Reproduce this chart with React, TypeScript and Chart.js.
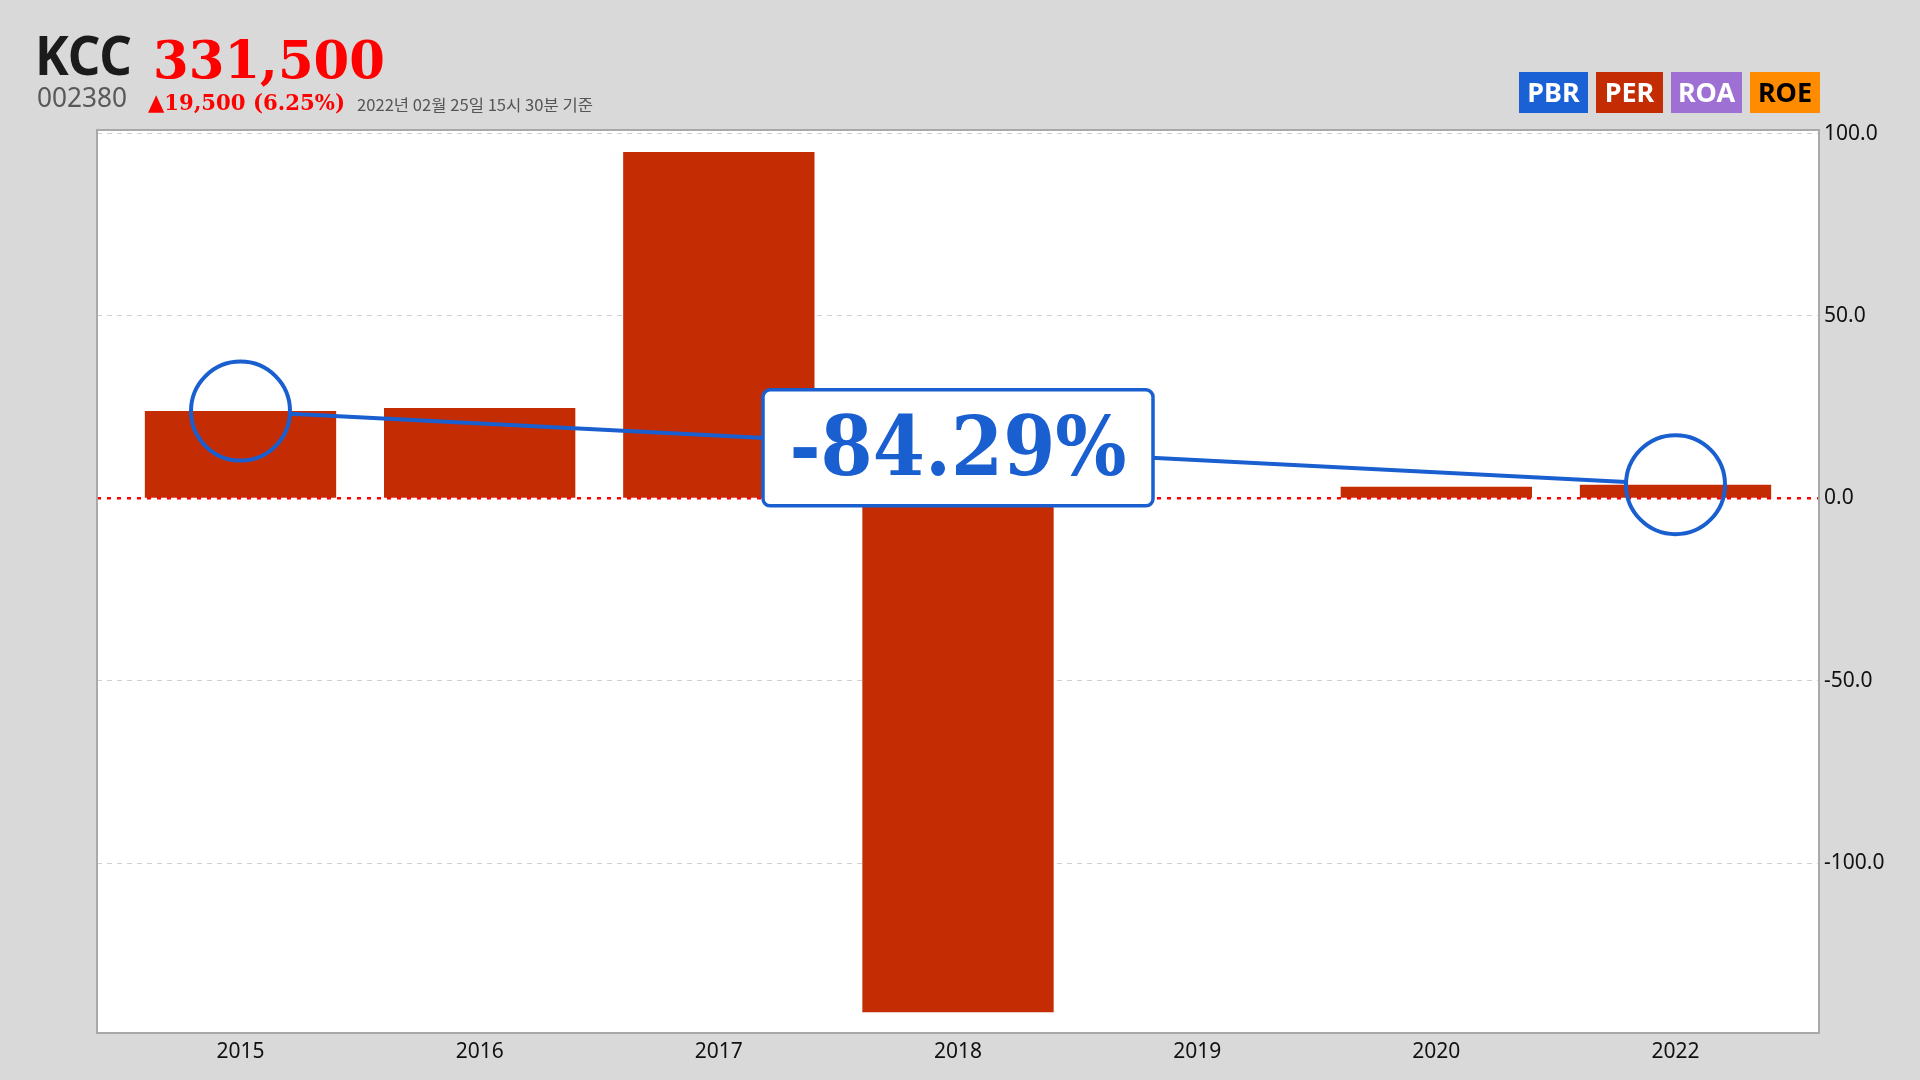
import React, { useEffect, useRef } from "react";
import { Chart, registerables } from "chart.js";

Chart.register(...registerables);

// ---- data ----
const years = ["2015", "2016", "2017", "2018", "2019", "2020", "2022"];
const perValues: (number | null)[] = [23.92, 24.8, 95.0, -140.9, null, 3.2, 3.76];
const yTickValues = [-100, -50, 0, 50, 100];
const changeLabel = "-84.29%";
const stockName = "KCC";
const stockCode = "002380";
const priceText = "331,500";
const changeText = "▲19,500 (6.25%)";
const dateText = "2022년 02월 25일 15시 30분 기준";
const legendLabels = ["PBR", "PER", "ROA", "ROE"];

// ---- styles ----
const legendColors = ["#1b61d6", "#c42c04", "#9e70d4", "#ff8c00"];
const legendTextColors = ["#ffffff", "#ffffff", "#ffffff", "#000000"];
const legendBoxes = [
  [1519, 1588],
  [1596, 1663],
  [1671, 1742],
  [1750, 1820],
];
const BAR_COLOR = "#c42c04";
const BLUE = "#1a5fd0";
const BG = "#d9d9d9";

function fitText(
  ctx: CanvasRenderingContext2D,
  text: string,
  x: number,
  y: number,
  w: number,
  font: string,
  color: string,
  center = false
) {
  ctx.save();
  ctx.font = font;
  ctx.fillStyle = color;
  ctx.textBaseline = "alphabetic";
  ctx.textAlign = "left";
  const m = ctx.measureText(text).width;
  const s = w / m;
  ctx.translate(x, y);
  ctx.scale(s, 1);
  ctx.fillText(text, center ? -m / 2 : 0, 0);
  ctx.restore();
}

const decorPlugin = {
  id: "decor",
  beforeDraw(chart: any) {
    const { ctx, chartArea: a } = chart;
    ctx.save();
    ctx.fillStyle = BG;
    ctx.fillRect(0, 0, chart.width, chart.height);
    ctx.fillStyle = "#ffffff";
    ctx.fillRect(a.left, a.top, a.right - a.left, a.bottom - a.top);
    ctx.restore();
  },
  afterDatasetsDraw(chart: any) {
    const { ctx, chartArea: a } = chart;
    const xs = chart.scales.x;
    const ys = chart.scales.y;
    // zero line
    const y0 = ys.getPixelForValue(0);
    ctx.save();
    ctx.strokeStyle = "#ff0000";
    ctx.lineWidth = 2.5;
    ctx.setLineDash([4, 6]);
    ctx.beginPath();
    ctx.moveTo(a.left, y0);
    ctx.lineTo(a.right, y0);
    ctx.stroke();
    ctx.restore();

    // plot border
    ctx.save();
    ctx.strokeStyle = "#a9a9a9";
    ctx.lineWidth = 2;
    ctx.strokeRect(a.left, a.top, a.right - a.left, a.bottom - a.top);
    ctx.restore();

    // annotation
    const i1 = 0;
    const i2 = years.length - 1;
    const x1 = xs.getPixelForValue(i1);
    const y1 = ys.getPixelForValue(perValues[i1] as number);
    const x2 = xs.getPixelForValue(i2);
    const y2 = ys.getPixelForValue(perValues[i2] as number);
    const r = 49.5;
    const dx = x2 - x1;
    const dy = y2 - y1;
    const len = Math.sqrt(dx * dx + dy * dy);
    const ux = dx / len;
    const uy = dy / len;
    ctx.save();
    ctx.strokeStyle = BLUE;
    ctx.lineWidth = 4;
    ctx.beginPath();
    ctx.moveTo(x1 + ux * r, y1 + uy * r);
    ctx.lineTo(x2 - ux * r, y2 - uy * r);
    ctx.stroke();
    ctx.beginPath();
    ctx.arc(x1, y1, r, 0, Math.PI * 2);
    ctx.stroke();
    ctx.beginPath();
    ctx.arc(x2, y2, r, 0, Math.PI * 2);
    ctx.stroke();

    const cx = (x1 + x2) / 2;
    const cy = (y1 + y2) / 2;
    const bw = 390;
    const bh = 116;
    ctx.beginPath();
    (ctx as any).roundRect(cx - bw / 2, cy - bh / 2, bw, bh, 7);
    ctx.fillStyle = "#ffffff";
    ctx.fill();
    ctx.lineWidth = 3.5;
    ctx.strokeStyle = BLUE;
    ctx.stroke();
    ctx.restore();
    fitText(ctx, changeLabel, cx, cy + 27.5, 337, 'bold 82px "DejaVu Serif"', BLUE, true);
  },
  afterDraw(chart: any) {
    const { ctx } = chart;
    // header
    fitText(ctx, stockName, 35, 75, 97, 'bold 53px "Noto Sans"', "#1b1b1b");
    fitText(ctx, priceText, 153, 78, 232, 'bold 52px "DejaVu Serif"', "#ff0000");
    fitText(ctx, stockCode, 37, 107, 90, '27px "Noto Sans"', "#595959");
    fitText(ctx, changeText, 148, 110, 197, 'bold 23px "DejaVu Serif"', "#ff0000");
    fitText(ctx, dateText, 357, 111, 236, '16px "Noto Sans CJK KR"', "#555555");
    // legend boxes
    legendLabels.forEach((lab, i) => {
      const [l, rr] = legendBoxes[i];
      ctx.save();
      ctx.fillStyle = legendColors[i];
      ctx.fillRect(l, 72, rr - l, 41);
      ctx.restore();
      ctx.save();
      ctx.font = 'bold 27px "Noto Sans"';
      const w = Math.min(ctx.measureText(lab).width, rr - l - 10);
      ctx.restore();
      fitText(ctx, lab, (l + rr) / 2, 101.5, w, 'bold 27px "Noto Sans"', legendTextColors[i], true);
    });
  },
};

export default function App() {
  const ref = useRef<HTMLCanvasElement | null>(null);
  useEffect(() => {
    if (!ref.current) return;
    const chart = new Chart(ref.current, {
      type: "bar",
      data: {
        datasets: [
          {
            label: "PER",
            data: perValues.map((v, i) => ({ x: i, y: v })) as any,
            backgroundColor: BAR_COLOR,
            borderWidth: 0,
            barPercentage: 0.8,
            categoryPercentage: 1,
          },
        ],
      },
      options: {
        animation: false,
        responsive: false,
        devicePixelRatio: 1,
        layout: { padding: { left: 97, top: 130, right: 0, bottom: 0 } },
        plugins: { legend: { display: false }, tooltip: { enabled: false } },
        scales: {
          x: {
            type: "linear",
            position: "bottom",
            offset: false,
            min: -0.6,
            max: years.length - 1 + 0.6,
            grid: { display: false },
            border: { display: false },
            afterBuildTicks: (scale: any) => {
              scale.ticks = years.map((_, i) => ({ value: i }));
            },
            afterFit: (scale: any) => {
              scale.height = 47;
            },
            ticks: {
              autoSkip: false,
              maxRotation: 0,
              padding: -2,
              color: "#111111",
              font: { family: "Noto Sans", size: 21 },
              callback: (v: any) => years[v as number] ?? "",
            },
          },
          y: {
            type: "linear",
            position: "right",
            min: -146.6,
            max: 101,
            afterBuildTicks: (scale: any) => {
              scale.ticks = yTickValues.map((v) => ({ value: v }));
            },
            afterFit: (scale: any) => {
              scale.width = 101;
            },
            grid: {
              drawTicks: false,
              lineWidth: 1,
              color: (c: any) => (c.tick && c.tick.value === 0 ? "rgba(0,0,0,0)" : "#d0d0d0"),
              borderDash: [5, 5],
            } as any,
            border: { display: false, dash: [5, 5] },
            ticks: {
              padding: 5,
              color: "#111111",
              font: { family: "Noto Sans", size: 21 },
              callback: (v: any) => Number(v).toFixed(1),
            },
          },
        },
      },
      plugins: [decorPlugin],
    });
    return () => chart.destroy();
  }, []);
  return (
    <div style={{ position: "fixed", left: 0, top: 0, width: 1920, height: 1080, background: BG }}>
      <canvas ref={ref} width={1920} height={1080} style={{ display: "block", width: 1920, height: 1080 }} />
    </div>
  );
}
